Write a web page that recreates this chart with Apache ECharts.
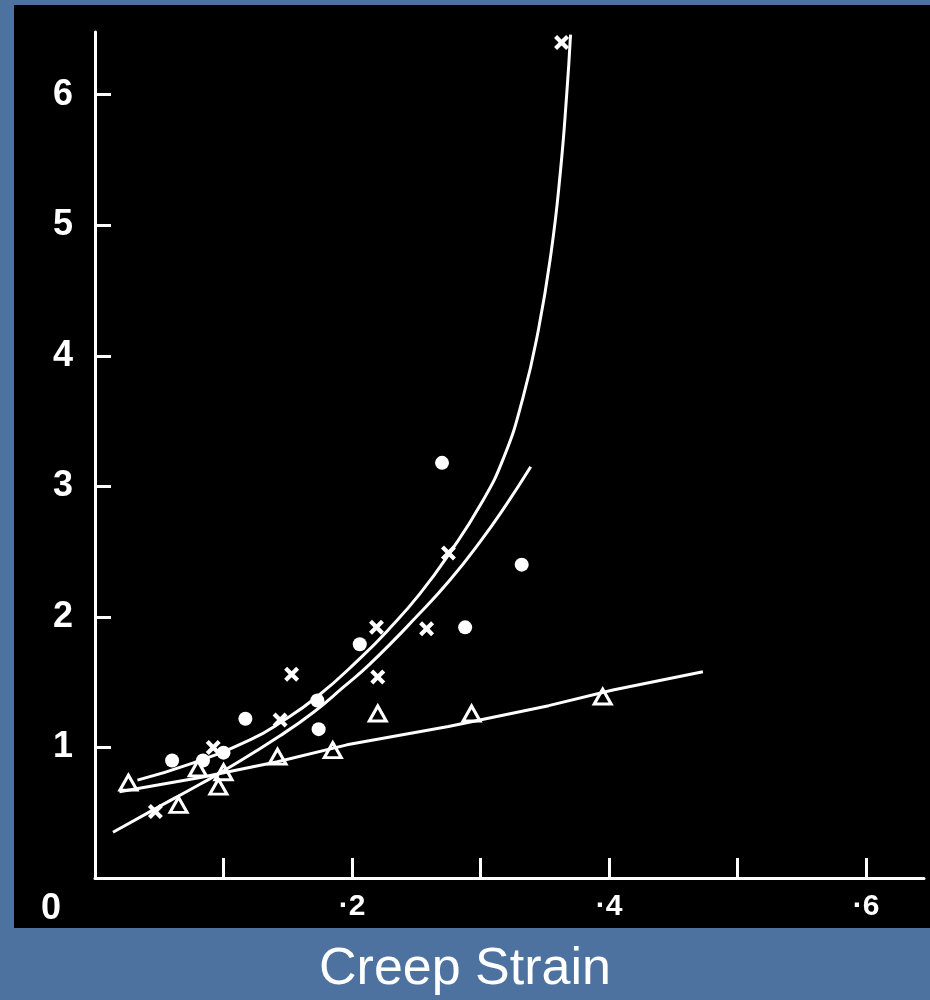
<!DOCTYPE html>
<html>
<head>
<meta charset="utf-8">
<title>Creep Strain</title>
<script src="https://cdn.jsdelivr.net/npm/echarts@6/dist/echarts.min.js"></script>
<style>
  html, body { margin: 0; padding: 0; background: #4d729f; }
  #chart { width: 930px; height: 1000px; }
</style>
</head>
<body>
<div id="chart"></div>
<script>
// data (x = creep strain, y = stress ratio)
var dots = [
  [0.060, 0.90], [0.084, 0.90], [0.100, 0.96], [0.117, 1.22], [0.173, 1.36],
  [0.174, 1.14], [0.206, 1.79], [0.270, 3.18], [0.288, 1.92], [0.332, 2.40]
];
var crosses = [
  [0.047, 0.51], [0.092, 1.00], [0.144, 1.21], [0.153, 1.56], [0.219, 1.92],
  [0.220, 1.54], [0.258, 1.91], [0.275, 2.49], [0.363, 6.40]
];
var triangles = [
  [0.026, 0.73], [0.065, 0.56], [0.080, 0.84], [0.100, 0.81], [0.096, 0.70],
  [0.142, 0.93], [0.185, 0.98], [0.220, 1.26], [0.293, 1.26], [0.395, 1.39]
];

// fitted curves
var curveUpper = [
  [0.033, 0.75], [0.076, 0.88], [0.121, 1.06], [0.144, 1.19], [0.173, 1.39],
  [0.206, 1.68], [0.230, 1.92], [0.253, 2.18], [0.276, 2.49], [0.300, 2.86],
  [0.318, 3.22], [0.333, 3.68], [0.345, 4.20], [0.355, 4.80], [0.362, 5.40],
  [0.367, 6.00], [0.370, 6.46]
];
var curveLower = [
  [0.014, 0.35], [0.045, 0.52], [0.082, 0.72], [0.105, 0.85], [0.144, 1.09],
  [0.170, 1.27], [0.193, 1.46], [0.214, 1.64], [0.251, 2.01], [0.276, 2.28],
  [0.300, 2.58], [0.320, 2.86], [0.339, 3.15]
];
var lineTriangle = [
  [0.019, 0.66], [0.082, 0.77], [0.142, 0.89], [0.196, 1.02], [0.275, 1.16],
  [0.353, 1.32], [0.403, 1.44], [0.473, 1.58]
];

var xTicks = [0.1, 0.2, 0.3, 0.4, 0.5, 0.6];
var xLabels = [0.2, 0.4, 0.6];
var yTicks = [1, 2, 3, 4, 5, 6];

var crossPath = 'path://M0,2L2,0L5,3L8,0L10,2L7,5L10,8L8,10L5,7L2,10L0,8L3,5Z';
var font = '"Liberation Sans", Arial, sans-serif';

var chart = echarts.init(document.getElementById('chart'));

var option = {
  backgroundColor: '#4d729f',
  animation: false,
  title: {
    text: 'Creep Strain',
    left: 'center',
    top: 939,
    textStyle: { color: '#fff', fontSize: 52, fontWeight: 'normal', fontFamily: font }
  },
  graphic: [
    // black photo panel behind the plot
    { type: 'rect', z: -10, shape: { x: 14, y: 5, width: 916, height: 923 }, style: { fill: '#000' } },
    { type: 'text', left: 41, top: 891, style: { text: '0', fill: '#fff', font: 'bold 36px ' + font } }
  ],
  grid: { left: 95, right: 6, top: 32, bottom: 122 },
  xAxis: {
    type: 'value',
    min: 0,
    max: 0.645,
    interval: 0.1,
    splitLine: { show: false },
    axisLine: { lineStyle: { color: '#fff', width: 3 } },
    axisTick: { inside: true, length: 20, customValues: xTicks, lineStyle: { color: '#fff', width: 3 } },
    axisLabel: {
      customValues: xLabels,
      margin: 14,
      color: '#fff',
      fontSize: 30,
      fontWeight: 'bold',
      fontFamily: font,
      formatter: function (v) { return '\u00b7' + Math.round(v * 10); }
    }
  },
  yAxis: {
    type: 'value',
    min: 0,
    max: 6.48,
    interval: 1,
    splitLine: { show: false },
    axisLine: { lineStyle: { color: '#fff', width: 3 } },
    axisTick: { inside: true, length: 16, customValues: yTicks, lineStyle: { color: '#fff', width: 3 } },
    axisLabel: {
      customValues: yTicks,
      margin: 22,
      color: '#fff',
      fontSize: 36,
      fontWeight: 'bold',
      fontFamily: font
    }
  },
  series: [
    {
      type: 'line', data: curveUpper, smooth: true, symbol: 'none',
      lineStyle: { color: '#fff', width: 3 }
    },
    {
      type: 'line', data: curveLower, smooth: true, symbol: 'none',
      lineStyle: { color: '#fff', width: 3 }
    },
    {
      type: 'line', data: lineTriangle, smooth: false, symbol: 'none',
      lineStyle: { color: '#fff', width: 3 }
    },
    {
      type: 'scatter', data: dots, symbol: 'circle', symbolSize: 14,
      itemStyle: { color: '#fff', opacity: 1 }
    },
    {
      type: 'scatter', data: crosses, symbol: crossPath, symbolSize: 15,
      itemStyle: { color: '#fff', opacity: 1 }
    },
    {
      type: 'scatter', data: triangles, symbol: 'triangle', symbolSize: [17, 15],
      itemStyle: { color: '#000', borderColor: '#fff', borderWidth: 3, opacity: 1 }
    }
  ]
};

chart.setOption(option);
</script>
</body>
</html>
